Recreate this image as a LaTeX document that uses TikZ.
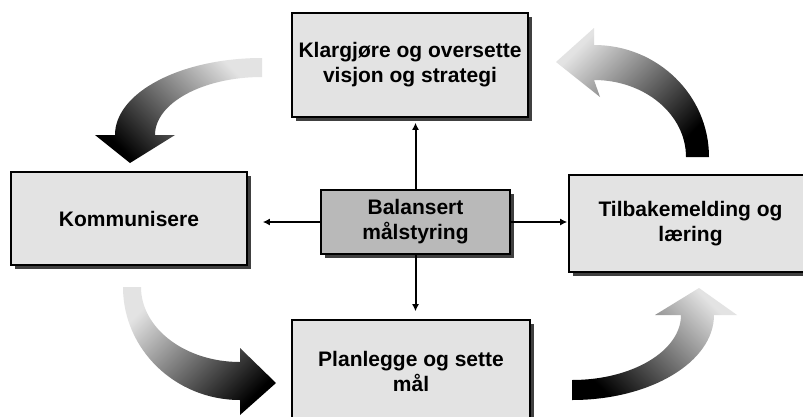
\documentclass[tikz,border=0pt]{standalone}
\usepackage{fontspec}
\setmainfont{Liberation Sans}
\usetikzlibrary{shadows,arrows.meta}
\begin{document}
\begin{tikzpicture}[x=1pt,y=-1pt,
  box/.style={draw=black, line width=1.6pt, fill=gray!22, align=center,
    font=\bfseries\fontsize{21}{25}\selectfont, inner sep=0pt,
    drop shadow={shadow xshift=3.5pt, shadow yshift=-3.5pt, fill=black!75, opacity=1}},
  conn/.style={line width=2pt, -{Latex[length=7pt,width=7pt]}},
  bigarrow/.style={top color=gray!22, bottom color=black}]
\useasboundingbox (0,0) rectangle (803,416);
\clip (0,0) rectangle (803,416);
\fill[white] (0,0) rectangle (803,416);

% curved block arrows
\shade[bigarrow, shading angle=-45]
  (262,58) arc[start angle=-90, end angle=-180, x radius=147, y radius=77]
  -- (95,135) -- (130,163) -- (175,135) -- (155,135)
  arc[start angle=180, end angle=270, x radius=107, y radius=58] -- cycle;
\shade[bigarrow, shading angle=45]
  (123,287) arc[start angle=180, end angle=90, x radius=117, y radius=113]
  -- (240,415) -- (276,383) -- (240,348) -- (240,362)
  arc[start angle=90, end angle=180, x radius=99, y radius=75] -- cycle;
\shade[bigarrow, shading angle=-45]
  (572,400) arc[start angle=90, end angle=0, x radius=142, y radius=85]
  -- (737,315) -- (699,288) -- (655,315) -- (681,315)
  arc[start angle=0, end angle=90, x radius=109, y radius=65] -- cycle;
\shade[bigarrow, shading angle=45]
  (709,157) arc[start angle=0, end angle=-90, x radius=115, y radius=112]
  -- (594,28) -- (556,62) -- (600,97) -- (594,80)
  arc[start angle=-90, end angle=0, x radius=92, y radius=77] -- cycle;

% boxes
\node[box, minimum width=236pt, minimum height=104pt] (klar) at (410,65)
  {Klargjøre og oversette\\visjon og strategi};
\node[box, minimum width=236pt, minimum height=93pt] (komm) at (129,218.5)
  {Kommunisere};
\node[box, fill=gray!55, minimum width=189pt, minimum height=64pt] (bal) at (415.5,222)
  {Balansert\\målstyring};
\node[box, minimum width=243pt, minimum height=97pt] (tilb) at (690.5,223.5)
  {Tilbakemelding og\\læring};
\node[box, minimum width=238pt, minimum height=102pt] (plan) at (411,371)
  {Planlegge og sette\\mål};

% connectors
\draw[conn, shorten >=5pt] (bal.north) -- (bal.north |- klar.south);
\draw[conn, shorten >=15pt] (bal.west) -- (bal.west -| komm.east);
\draw[conn, shorten >=1pt] (bal.east) -- (bal.east -| tilb.west);
\draw[conn, shorten >=8pt] (bal.south) -- (bal.south |- plan.north);
\end{tikzpicture}
\end{document}
